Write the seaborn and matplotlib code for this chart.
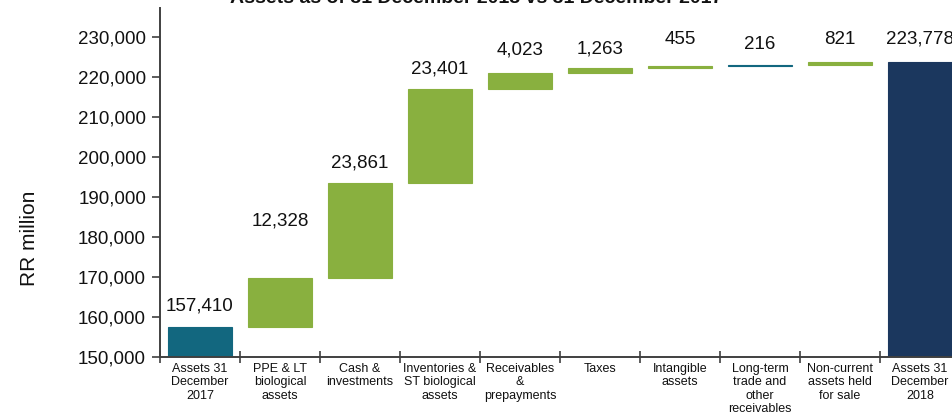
import numpy as np
import pandas as pd
import matplotlib
matplotlib.use("Agg")
import matplotlib.pyplot as plt
from matplotlib.ticker import FuncFormatter, FixedLocator
import seaborn as sns

# Waterfall data (RR million)
categories = [
    "Assets 31\nDecember\n2017",
    "PPE & LT\nbiological\nassets",
    "Cash &\ninvestments",
    "Inventories &\nST biological\nassets",
    "Receivables\n&\nprepayments",
    "Taxes",
    "Intangible\nassets",
    "Long-term\ntrade and\nother\nreceivables",
    "Non-current\nassets held\nfor sale",
    "Assets 31\nDecember\n2018",
]
opening_total = 157410
changes = [12328, 23861, 23401, 4023, 1263, 455, 216, 821]
closing_total = 223778

title = "Assets as of 31 December 2018 vs 31 December 2017"
y_label = "RR million"

# Bar colours
teal = "#12677f"
green = "#89b03f"
navy = "#1b375e"
bar_colors = [teal] + [green] * 6 + [teal, green] + [navy]

# Heights and floating bases of each bar
heights = [opening_total] + changes + [closing_total]
bases = [0] + list(opening_total + np.cumsum([0] + changes[:-1])) + [0]

df = pd.DataFrame({"category": categories, "height": heights})

sns.set_theme(style="white")
plt.rcParams["font.family"] = ["Liberation Sans", "DejaVu Sans"]

fig = plt.figure(figsize=(9.53, 4.18), dpi=100)
ax = fig.add_axes([160 / 953, 61 / 418, 800 / 953, 349 / 418])

sns.barplot(
    data=df, x="category", y="height", hue="category",
    palette=bar_colors, legend=False, width=0.8, ax=ax,
    saturation=1,
)

# Lift each change bar onto the running total; outline keeps tiny bars visible
for patch, b, c in zip(ax.patches, bases, bar_colors):
    patch.set_y(b)
    patch.set_edgecolor(c)
    patch.set_linewidth(0.8)

# Value labels above the bars (extra lift for the second label)
label_pad = [13, 49, 11, 12, 14, 10, 18, 12, 14, 14]
for i, (h, b) in enumerate(zip(heights, bases)):
    ax.annotate(f"{h:,.0f}", xy=(i, b + h), xytext=(0, label_pad[i] * 0.72),
                textcoords="offset points", ha="center", va="bottom",
                fontsize=13.5, color="#111111")

ax.set_xlim(-0.5, 9.5)
ax.set_ylim(150000, 237250)
ax.set_yticks(np.arange(150000, 230001, 10000))
ax.yaxis.set_major_formatter(FuncFormatter(lambda v, p: f"{v:,.0f}"))
ax.tick_params(axis="y", which="major", direction="out", length=6, width=1.2,
               color="#404040", labelsize=13.5, pad=4, left=True,
               labelcolor="#111111")

ax.set_xlabel("")
ax.set_xticks(range(len(categories)))
ax.set_xticklabels(categories, fontsize=9, linespacing=1.18)
ax.tick_params(axis="x", which="major", length=0, pad=4, labelcolor="#111111")
ax.xaxis.set_minor_locator(FixedLocator(np.arange(-0.5, 9.6, 1)))
ax.tick_params(axis="x", which="minor", direction="inout", length=9, width=1.2,
               color="#404040", bottom=True)

for side in ["top", "right"]:
    ax.spines[side].set_visible(False)
for side in ["left", "bottom"]:
    ax.spines[side].set_color("#404040")
    ax.spines[side].set_linewidth(1.4)

ax.set_ylabel(y_label, fontsize=15, color="#111111")
ax.yaxis.set_label_coords(-121 / 800, 0.34)

fig.text(476 / 953, 1 - 3 / 418, title, ha="center", va="baseline",
         fontsize=14, fontweight="bold", color="#111111")

fig.savefig("out.png", dpi=100)
